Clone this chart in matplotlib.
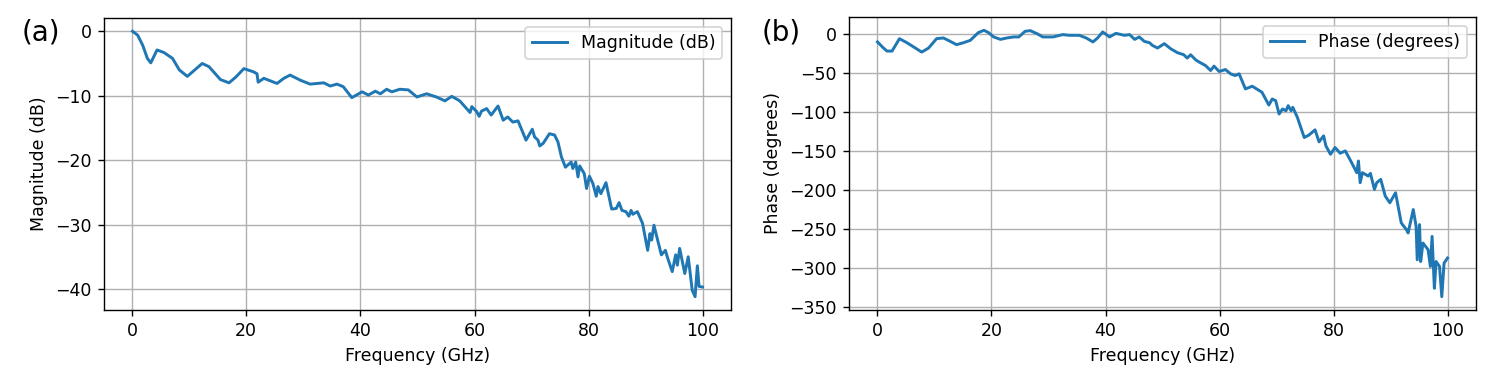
import matplotlib
matplotlib.use("Agg")
import matplotlib.pyplot as plt

# magnitude response
mag_freq = [0.1, 1.0, 1.9, 2.7, 3.3, 4.4, 5.6, 7.1, 8.3, 9.7, 11.0, 12.3, 13.5, 15.5,
            17.0, 18.2, 19.6, 21.3, 21.9, 22.1, 23.1, 25.4, 26.6, 27.7, 29.5, 31.2,
            33.6, 34.7, 35.9, 37.0, 38.5, 40.3, 41.4, 42.6, 43.5, 44.6, 45.5, 46.9,
            48.4, 49.9, 51.6, 53.3, 54.8, 56.0, 57.4, 58.6, 59.2, 59.5, 60.3, 60.8,
            61.2, 62.1, 62.9, 64.1, 65.0, 65.8, 66.7, 67.6, 69.0, 70.1, 70.5, 71.1,
            71.4, 72.0, 73.1, 74.0, 74.6, 75.2, 75.9, 76.9, 77.2, 77.7, 78.1, 78.4,
            79.2, 79.6, 80.1, 80.7, 81.3, 81.6, 82.1, 83.0, 84.0, 84.8, 85.3, 85.8,
            86.5, 87.0, 87.4, 87.7, 88.5, 89.4, 90.3, 90.7, 91.0, 91.4, 91.9, 92.7,
            93.4, 93.8, 94.6, 95.2, 95.5, 95.9, 96.8, 97.4, 98.1, 98.6, 99.0, 99.3,
            99.9]
mag_db = [0.0, -0.6, -2.2, -4.2, -4.9, -2.9, -3.3, -4.2, -6.0, -7.0, -6.0, -5.0, -5.5, -7.5,
          -8.0, -7.1, -5.8, -6.3, -6.6, -7.9, -7.3, -8.1, -7.3, -6.8, -7.6, -8.2,
          -8.0, -8.5, -8.2, -8.6, -10.3, -9.4, -9.9, -9.3, -9.7, -9.0, -9.4, -9.0,
          -9.1, -10.2, -9.7, -10.2, -10.8, -10.1, -10.8, -12.0, -12.6, -11.7, -12.4, -13.2,
          -12.4, -12.0, -13.0, -11.6, -13.8, -13.3, -14.1, -13.9, -16.9, -15.2, -16.4, -16.9,
          -17.8, -17.4, -15.9, -16.1, -17.2, -19.5, -21.1, -20.3, -21.3, -20.3, -22.6, -20.9,
          -22.1, -24.4, -22.5, -23.6, -25.6, -24.1, -25.2, -23.5, -27.6, -27.5, -26.6, -27.8,
          -28.0, -28.7, -27.8, -28.4, -28.0, -29.8, -34.0, -31.4, -32.4, -30.1, -31.9, -34.7,
          -34.0, -35.2, -37.3, -34.7, -36.3, -33.7, -37.6, -35.0, -40.2, -41.2, -36.4, -39.6,
          -39.7]

# phase response
phase_freq = [0.05, 1.1, 1.7, 2.6, 3.9, 5.2, 6.4, 7.8, 9.0, 10.4, 11.6, 12.8, 13.9, 15.1,
              16.3, 17.7, 18.7, 19.5, 20.4, 21.6, 22.7, 23.9, 24.8, 25.9, 26.8, 28.0,
              29.0, 30.8, 32.5, 33.7, 35.4, 36.6, 37.8, 38.6, 39.5, 40.7, 41.8, 43.3,
              44.2, 45.1, 45.9, 46.8, 47.7, 48.2, 49.1, 50.3, 51.4, 52.6, 53.7, 54.3,
              54.9, 55.8, 56.4, 57.5, 58.4, 59.0, 59.9, 61.0, 61.9, 62.7, 63.4, 64.5,
              65.7, 67.4, 68.6, 69.2, 69.8, 70.4, 71.0, 71.6, 72.0, 72.5, 72.8, 73.6,
              74.8, 75.6, 76.7, 77.4, 78.2, 78.6, 79.4, 80.2, 81.1, 82.0, 83.1, 84.0,
              84.3, 84.6, 85.0, 86.0, 86.4, 87.1, 87.5, 88.2, 89.0, 89.8, 90.8, 91.8,
              92.7, 93.0, 93.9, 94.4, 94.6, 95.0, 95.2, 95.6, 96.5, 96.9, 97.2, 97.6,
              97.9, 98.5, 98.9, 99.3, 99.9]
phase_deg = [-10, -17.8, -21.7, -21.7, -5.8, -11, -16.5, -23, -17.8, -5.8, -4.9, -9.3, -13.5, -11,
             -8, 1.9, 4.9, 1.9, -3.6, -6.7, -4.9, -3.6, -3.6, 3.6, 4.5, 0.6,
             -3.6, -3.6, -0.6, -1.5, -1.5, -4.9, -10, -4.9, 2.8, -3.6, 1.0, -1.5,
             -0.6, -6.7, -3.6, -9.3, -11, -14.4, -17.8, -12.2, -18.7, -23.8, -26.4, -30.7,
             -26.4, -33, -35.8, -40.2, -46.6, -41, -47.9, -45.4, -50.9, -53.1, -50.9, -70.2,
             -66.8, -74.5, -90.9, -83.1, -85.3, -102.4, -96, -98.2, -91.7, -98.2, -93.8, -106.7,
             -132.5, -129.5, -122.7, -138.1, -130.4, -143.3, -154, -145.4, -152.7, -149.7, -164.7, -177.6,
             -162.6, -190.5, -177.6, -181.9, -178.5, -199.1, -190.5, -186.2, -207.7, -216.2, -203.4, -242,
             -250.6, -254.9, -224.9, -246.4, -289.3, -244.2, -291.5, -267.8, -276.4, -297.9, -259.3, -325.8,
             -291.5, -297.9, -336.6, -293.6, -287.1]

W, H = 1495, 370
fig = plt.figure(figsize=(W / 125, H / 125), dpi=125)
ax1 = fig.add_axes([104 / W, 1 - 310 / H, 627 / W, 292 / H])
ax2 = fig.add_axes([849 / W, 1 - 310 / H, 627 / W, 293 / H])

ax1.plot(mag_freq, mag_db, lw=1.7, label='Magnitude (dB)')
ax1.set_xlabel('Frequency (GHz)')
ax1.set_ylabel('Magnitude (dB)')
ax1.grid(True)
ax1.legend(loc='upper right')

ax2.plot(phase_freq, phase_deg, lw=1.7, label='Phase (degrees)')
ax2.set_xlabel('Frequency (GHz)')
ax2.set_ylabel('Phase (degrees)')
ax2.set_yticks(range(-350, 1, 50))
ax2.grid(True)
ax2.legend(loc='upper right')

fig.text(22 / W, 1 - 33 / H, '(a)', fontsize=16, va='center')
fig.text(762 / W, 1 - 33 / H, '(b)', fontsize=16, va='center')

fig.savefig('out.png', dpi=125)
